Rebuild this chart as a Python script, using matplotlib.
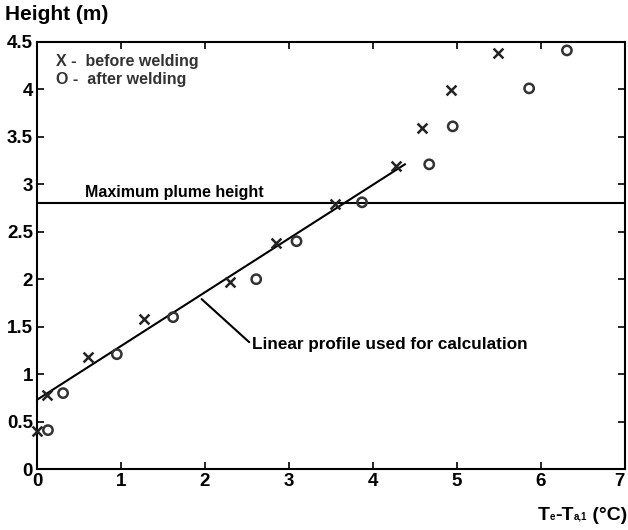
import matplotlib
matplotlib.use("Agg")
import matplotlib.pyplot as plt
from matplotlib.offsetbox import TextArea, HPacker, AnchoredOffsetbox

plt.rcParams['font.family'] = ['Liberation Sans', 'DejaVu Sans']
plt.rcParams['font.weight'] = 'bold'

before_x = [0.0, 0.12, 0.61, 1.27, 2.30, 2.85, 3.55, 4.28, 4.58, 4.93, 5.49]
before_y = [0.40, 0.78, 1.18, 1.58, 1.97, 2.38, 2.79, 3.19, 3.59, 3.99, 4.38]
after_x = [0.13, 0.31, 0.95, 1.62, 2.61, 3.09, 3.87, 4.67, 4.95, 5.86, 6.31]
after_y = [0.41, 0.80, 1.21, 1.60, 2.00, 2.40, 2.81, 3.21, 3.61, 4.01, 4.41]
fit_x = [0.0, 4.38]
fit_y = [0.73, 3.21]
max_plume = 2.8
xticks = [0, 1, 2, 3, 4, 5, 6, 7]
yticks = [0, 0.5, 1, 1.5, 2, 2.5, 3, 3.5, 4, 4.5]
ytick_labels = ['0', '0.5', '1', '1.5', '2', '2.5', '3', '3.5', '4', '4.5']

fig = plt.figure(figsize=(6.28, 5.30), dpi=100)
ax = fig.add_axes([0.059, 0.115, 0.936, 0.806])

ax.plot(fit_x, fit_y, color='black', lw=1.5)
ax.axhline(max_plume, color='black', lw=1.5)
ax.scatter(before_x, before_y, marker='x', s=50, color='#222222', linewidths=1.8, zorder=3, clip_on=False)
ax.scatter(after_x, after_y, marker='o', s=45, facecolors='none', edgecolors='#333333', linewidths=1.8, zorder=3, clip_on=False)

ax.set_xlim(0, 7)
ax.set_ylim(0, 4.5)
ax.set_xticks(xticks)
ax.set_xticklabels([str(t) for t in xticks])
ax.set_yticks(yticks)
ax.set_yticklabels(ytick_labels)
ax.tick_params(direction='in', top=True, right=True, labelsize=13.5, length=5, width=1.2, pad=3)
for lab in ax.get_xticklabels() + ax.get_yticklabels():
    lab.set_fontweight('bold')
ax.get_xticklabels()[-1].set_horizontalalignment('right')
for s in ax.spines.values():
    s.set_linewidth(1.5)

ax.text(0.57, 2.91, 'Maximum plume height', fontsize=11.5, fontweight='bold', va='center')
ax.annotate('Linear profile used for calculation', xy=(1.96, 1.79), xytext=(2.56, 1.31),
            fontsize=12.3, fontweight='bold', va='center', ha='left',
            arrowprops=dict(arrowstyle='-', color='black', lw=1.5, shrinkA=0, shrinkB=0,
                            relpos=(0.0, 0.5)))
ax.text(0.22, 4.29, 'X -  before welding', fontsize=11.5, fontweight='bold', va='center', color='#333333')
ax.text(0.22, 4.10, 'O -  after welding', fontsize=11.5, fontweight='bold', va='center', color='#333333')

fig.text(0.008, 0.972, 'Height (m)', fontsize=15, fontweight='bold', va='center', ha='left')

parts = [TextArea('T', textprops=dict(fontsize=14, fontweight='bold')),
         TextArea('e', textprops=dict(fontsize=7, fontweight='bold')),
         TextArea('-T', textprops=dict(fontsize=14, fontweight='bold')),
         TextArea('a,1', textprops=dict(fontsize=7, fontweight='bold')),
         TextArea(' (°C)', textprops=dict(fontsize=14, fontweight='bold'))]
box = HPacker(children=parts, align='baseline', pad=0, sep=0)
anch = AnchoredOffsetbox(loc='lower right', child=box, pad=0, borderpad=0, frameon=False,
                         bbox_to_anchor=(0.999, 0.012), bbox_transform=fig.transFigure)
fig.add_artist(anch)

fig.savefig('out.png', dpi=100)
